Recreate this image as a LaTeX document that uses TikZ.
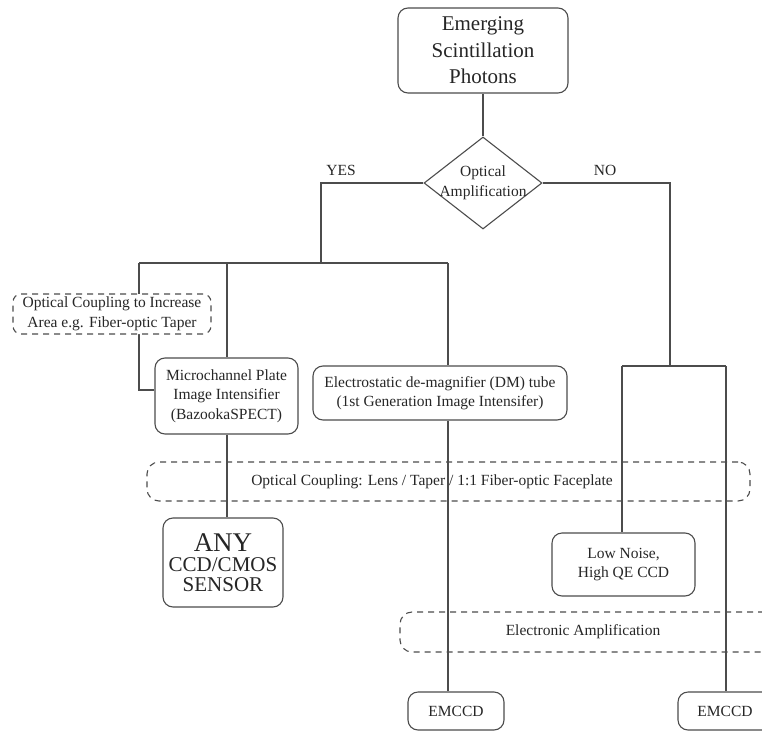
\documentclass[tikz,border=0pt]{standalone}
\usepackage{fontspec}
\setmainfont{Liberation Serif}
\usepackage{tikz}
\usetikzlibrary{positioning,shapes.geometric,calc}

\definecolor{linegray}{gray}{0.3}
\definecolor{inkgray}{gray}{0.15}
\newcommand{\txtsize}{\fontsize{15.5}{19.5}\selectfont}

\begin{document}
\begin{tikzpicture}[x=1pt,y=-1pt, color=linegray, line width=1.1pt,
            every node/.style={text=inkgray, font=\txtsize, align=center},
            block/.style={draw, rounded corners=10pt, inner sep=2pt},
            dashblock/.style={draw, rounded corners=12pt, dash pattern=on 6pt off 5pt, inner sep=2pt},
            decision/.style={draw, diamond, inner sep=0pt, minimum width=118pt, minimum height=92pt}]
            \clip (0,0) rectangle (762,733);
            \node[block, minimum width=170pt, minimum height=85pt, font=\fontsize{21}{26.5}\selectfont] (src) at (483,50.5) {Emerging\\Scintillation\\Photons};
            \node[decision] (amp) at (483,183) {};
            \node (ampTxt) at (amp.center) {Optical\\Amplification};
            \node (yes) at (341,170) {YES};
            \node (no) at (605,170) {NO};
            \coordinate (yesTurn) at (321,183);
            \coordinate (yesDrop) at (321,263);
            \coordinate (splitL) at (139,263);
            \coordinate (splitM) at (227,263);
            \coordinate (splitR) at (448,263);
            \coordinate (mcpJoin) at (139,390);
            \coordinate (noTurn) at (670,183);
            \coordinate (noDrop) at (670,366);
            \coordinate (ccdL) at (622,366);
            \coordinate (ccdR) at (726,366);
            \node[block, minimum width=143pt, minimum height=76pt] (mcp) at (226.5,396) {Microchannel Plate\\Image Intensifier\\(BazookaSPECT)};
            \node[block, minimum width=254pt, minimum height=54pt] (dm) at (440,393) {Electrostatic de-magnifier (DM) tube\\(1st Generation Image Intensifer)};
            \node[dashblock, minimum width=603pt, minimum height=39pt] (plate) at (448.5,481.5) {};
            \node (plateTxt) at (432,481.5) {Optical Coupling: Lens / Taper / 1:1 Fiber-optic Faceplate};
            \node[block, minimum width=120pt, minimum height=89pt, inner sep=0pt] (any) at (223,562.5) {{\fontsize{27}{28}\selectfont ANY}\\[1pt]{\fontsize{21}{24}\selectfont CCD/CMOS}\\{\fontsize{21}{24}\selectfont SENSOR}};
            \node[block, minimum width=143pt, minimum height=63pt] (lowq) at (623.5,564.5) {Low Noise,\\High QE CCD};
            \node[dashblock, minimum width=376pt, minimum height=40pt] (emamp) at (588,632) {};
            \node (emampTxt) at (583,632) {Electronic Amplification};
            \node[block, minimum width=96pt, minimum height=38pt] (emccdL) at (456,711) {EMCCD};
            \node[block, minimum width=94pt, minimum height=38pt] (emccdR) at (725,711) {EMCCD};
            \draw (src) -- (amp);
            \draw (amp.west) -- (yesTurn) -- (yesDrop);
            \draw (splitL) -- (splitR);
            \draw (splitL) -- (mcpJoin) -- (mcp.west |- mcpJoin);
            \draw (splitM) -- (splitM |- mcp.north);
            \draw (splitM |- mcp.south) -- (splitM |- any.north);
            \draw (splitR) -- (splitR |- dm.north);
            \draw (splitR |- dm.south) -- (splitR |- emccdL.north);
            \draw (amp.east) -- (noTurn) -- (noDrop);
            \draw (ccdL) -- (ccdR);
            \draw (ccdL) -- (ccdL |- lowq.north);
            \draw (ccdR) -- (ccdR |- emccdR.north);
            \node[dashblock, fill=white, minimum width=198pt, minimum height=40pt, rounded corners=8pt] (taper) at (112,314) {Optical Coupling to Increase\\Area e.g. Fiber-optic Taper};
        \end{tikzpicture}
\end{document}
